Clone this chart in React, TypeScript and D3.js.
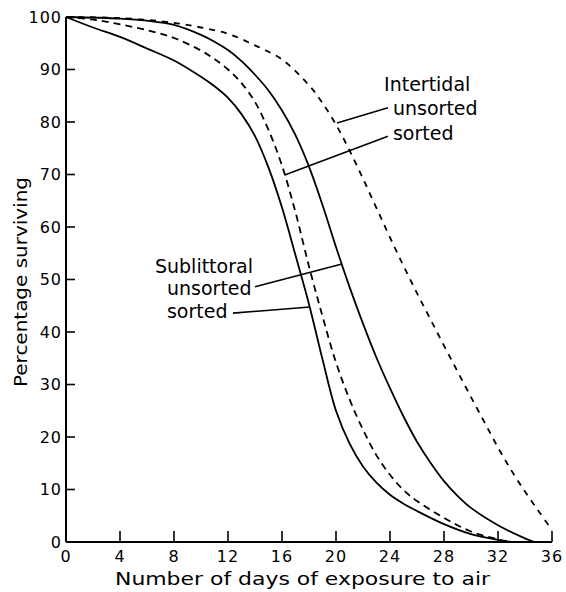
import React from "react";
import * as d3 from "d3";

const W = 566;
const H = 592;

// x axis: days of exposure
const xTicks = [0, 4, 8, 12, 16, 20, 24, 28, 32, 36];
// y axis: percentage surviving
const yTicks = [0, 10, 20, 30, 40, 50, 60, 70, 80, 90, 100];

// Sublittoral sorted (solid, leftmost)
const sublittoralSortedDays = [0, 2, 4, 6, 8, 10, 11, 12, 13, 14, 15, 16, 17, 18, 19, 20, 21, 22, 23, 24, 25, 26, 28, 30, 32, 33];
const sublittoralSortedPct = [100, 98, 96.2, 94, 91.7, 88.6, 86.8, 84.6, 81.5, 77.3, 71.3, 63.7, 54.6, 45.3, 34.8, 25, 18.8, 14.4, 11.3, 9, 7.3, 5.9, 3.4, 1.5, 0.4, 0];

// Intertidal sorted (dashed, left)
const intertidalSortedDays = [0, 2, 4, 6, 8, 10, 11, 12, 13, 14, 15, 16, 17, 18, 19, 20, 21, 22, 23, 24, 25, 26, 28, 30, 32, 33];
const intertidalSortedPct = [100, 99.5, 98.6, 97.5, 96, 93.6, 92, 90, 87.4, 83.8, 78.5, 71.7, 62.8, 52.5, 43, 34.2, 27.2, 21.4, 16.5, 12.8, 9.9, 7.8, 4.6, 2, 0.5, 0];

// Sublittoral unsorted (solid, right)
const sublittoralUnsortedDays = [0, 4, 6, 8, 10, 11, 12, 13, 14, 15, 16, 17, 18, 19, 20, 21, 22, 23, 24, 25, 26, 27, 28, 29, 30, 32, 34, 34.7];
const sublittoralUnsortedPct = [100, 99.7, 99.3, 98.5, 96.6, 95.3, 93.7, 91.6, 89, 86, 82.2, 77.5, 71.5, 64.2, 56.2, 48.6, 41.6, 35.1, 29.3, 23.9, 19.1, 15.1, 11.6, 8.8, 6.5, 3.2, 0.7, 0];

// Intertidal unsorted (dashed, right)
const intertidalUnsortedDays = [0, 4, 8, 10, 12, 14, 16, 18, 19, 20, 21, 22, 23, 24, 25, 26, 27, 28, 29, 30, 31, 32, 33, 34, 35, 36];
const intertidalUnsortedPct = [100, 99.8, 98.9, 98, 96.8, 94.6, 91.9, 87, 83.6, 79.5, 74.6, 69.2, 63.6, 58, 52.6, 47.4, 42.4, 37.4, 32.5, 27.6, 22.8, 18, 13.6, 9.6, 5.9, 2.3];

// Annotation labels (day, pct) anchors
const labelLines = ["Intertidal", "unsorted", "sorted", "Sublittoral", "unsorted", "sorted"];
const labelDays = [23.56, 24.22, 24.22, 6.59, 7.48, 7.48];
const labelPct = [86.0, 81.3, 76.6, 51.2, 47.0, 42.7];
// leader lines: [fromDay, fromPct] -> [toDay, toPct]
const leaderFromDay = [23.85, 23.85, 14.0, 12.37];
const leaderFromPct = [82.7, 77.3, 48.6, 43.6];
const leaderToDay = [20.07, 16.2, 20.44, 18.07];
const leaderToPct = [79.8, 69.9, 52.95, 44.76];

const FONT = "'DejaVu Sans', 'Liberation Sans', sans-serif";

export default function App() {
  const x = d3.scaleLinear().domain([0, 36]).range([66, 552]);
  const y = d3.scaleLinear().domain([0, 100]).range([542, 17]);

  const line = d3
    .line<[number, number]>()
    .x((d) => x(d[0]))
    .y((d) => y(Math.max(0, d[1])))
    .curve(d3.curveCatmullRom.alpha(0.5));

  const series = [
    { days: sublittoralSortedDays, pct: sublittoralSortedPct, dash: undefined },
    { days: intertidalSortedDays, pct: intertidalSortedPct, dash: "7,5" },
    { days: sublittoralUnsortedDays, pct: sublittoralUnsortedPct, dash: undefined },
    { days: intertidalUnsortedDays, pct: intertidalUnsortedPct, dash: "6,6" },
  ];

  return (
    <svg
      width={W}
      height={H}
      style={{ position: "absolute", left: 0, top: 0, background: "#fff" }}
      fontFamily={FONT}
    >
      <rect x={0} y={0} width={W} height={H} fill="#fff" />
      {/* axes */}
      <line x1={x(0)} x2={x(0)} y1={y(0)} y2={y(100)} stroke="#000" strokeWidth={2} />
      <line x1={x(0)} x2={x(36)} y1={y(0)} y2={y(0)} stroke="#000" strokeWidth={2} />
      {yTicks.map((t) => (
        <g key={"y" + t}>
          <line x1={x(0)} x2={x(0) + 9} y1={y(t)} y2={y(t)} stroke="#000" strokeWidth={1.6} />
          <text
            x={x(0) - 4}
            y={y(t)}
            dy="0.36em"
            textAnchor="end"
            fontSize={16}
            letterSpacing={1}
            fill="#000"
          >
            {t}
          </text>
        </g>
      ))}
      {xTicks.map((t) => (
        <g key={"x" + t}>
          {t > 0 && (
            <line x1={x(t)} x2={x(t)} y1={y(0)} y2={y(0) - 11} stroke="#000" strokeWidth={1.6} />
          )}
          <text x={x(t)} y={562} textAnchor="middle" fontSize={16} letterSpacing={1} fill="#000">
            {t}
          </text>
        </g>
      ))}
      <text x={115} y={585} fontSize={18} textLength={375} lengthAdjust="spacingAndGlyphs" fill="#000">
        Number of days of exposure to air
      </text>
      <text
        transform={`translate(27,282) rotate(-90)`}
        textAnchor="middle"
        fontSize={18}
        textLength={210}
        lengthAdjust="spacingAndGlyphs"
        fill="#000"
      >
        Percentage surviving
      </text>

      {/* curves */}
      {series.map((s, i) => (
        <path
          key={"s" + i}
          d={line(s.days.map((d, j) => [d, s.pct[j]] as [number, number])) || ""}
          fill="none"
          stroke="#000"
          strokeWidth={1.8}
          strokeDasharray={s.dash}
        />
      ))}

      {/* leaders */}
      {leaderFromDay.map((d, i) => (
        <line
          key={"l" + i}
          x1={x(d)}
          y1={y(leaderFromPct[i])}
          x2={x(leaderToDay[i])}
          y2={y(leaderToPct[i])}
          stroke="#000"
          strokeWidth={1.6}
        />
      ))}

      {/* labels */}
      {labelLines.map((t, i) => (
        <text key={"t" + i} x={x(labelDays[i])} y={y(labelPct[i])} fontSize={19} fill="#000">
          {t}
        </text>
      ))}
    </svg>
  );
}
